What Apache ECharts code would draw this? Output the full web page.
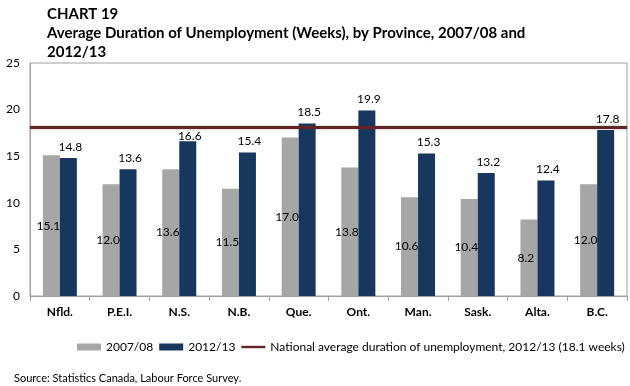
<!DOCTYPE html>
<html><head><meta charset="utf-8">
<script src="https://cdn.jsdelivr.net/npm/echarts@6/dist/echarts.min.js"></script>
<style>html,body{margin:0;padding:0;background:#fff}#c{width:630px;height:386px}</style>
</head><body><div id="c"></div>
<script>
var provinces = ['Nfld.', 'P.E.I.', 'N.S.', 'N.B.', 'Que.', 'Ont.', 'Man.', 'Sask.', 'Alta.', 'B.C.'];
var values0708 = [15.1, 12.0, 13.6, 11.5, 17.0, 13.8, 10.6, 10.4, 8.2, 12.0];
var values1213 = [14.8, 13.6, 16.6, 15.4, 18.5, 19.9, 15.3, 13.2, 12.4, 17.8];
var nationalAvg = 18.1;
var yTicks = [0, 5, 10, 15, 20, 25];
var FONT = 'Lato, "Open Sans", sans-serif';
var chart = echarts.init(document.getElementById('c'));
// label of N.S. 2012/13 sits closer to its bar (under the national line) as in the original
var data1213 = values1213.map(function (v, i) {
  return provinces[i] === 'N.S.' ? {value: v, label: {distance: -1}} : v;
});
chart.setOption({
  animation: false,
  textStyle: {fontFamily: FONT},
  title: {
    text: 'CHART 19\nAverage Duration of Unemployment (Weeks), by Province, 2007/08 and\n2012/13',
    left: 42, top: 0,
    textStyle: {fontFamily: FONT, fontSize: 15, fontWeight: 'bold', color: '#000', lineHeight: 19}
  },
  grid: {left: 30, right: 3, top: 63, bottom: 90, show: true, borderColor: '#a0a0a0', borderWidth: 1},
  legend: {
    bottom: 28, left: 72, itemWidth: 24, itemHeight: 7, itemGap: 6,
    textStyle: {fontFamily: FONT, fontSize: 12, color: '#000'},
    data: [
      {name: '2007/08', icon: 'rect'},
      {name: '2012/13', icon: 'rect'},
      {name: 'National average duration of unemployment, 2012/13 (18.1 weeks)', icon: 'path://M0,0H10V1H0Z'}
    ]
  },
  xAxis: {
    type: 'category', data: provinces,
    axisLine: {lineStyle: {color: '#a0a0a0'}},
    axisTick: {show: true, length: 5, lineStyle: {color: '#a0a0a0'}},
    axisLabel: {fontFamily: FONT, fontSize: 12, fontWeight: 'bold', color: '#000', margin: 10}
  },
  yAxis: {
    type: 'value', min: yTicks[0], max: yTicks[yTicks.length - 1], interval: 5,
    splitLine: {show: false},
    axisLine: {show: true, lineStyle: {color: '#a0a0a0'}},
    axisTick: {show: false},
    axisLabel: {fontFamily: FONT, fontSize: 12, color: '#000', margin: 10}
  },
  series: [
    {
      name: '2007/08', type: 'bar', data: values0708, barWidth: 17, barGap: '0%',
      itemStyle: {color: '#a6a6a6'},
      label: {show: true, position: 'inside', offset: [-3, 0], color: '#000', fontSize: 12, fontFamily: FONT,
        formatter: function (p) { return p.value.toFixed(1); }}
    },
    {
      name: '2012/13', type: 'bar', data: data1213, barWidth: 17, barGap: '0%',
      itemStyle: {color: '#17375e'},
      label: {show: true, position: 'top', distance: 5, offset: [2, 0], color: '#000', fontSize: 12, fontFamily: FONT,
        formatter: function (p) { return p.value.toFixed(1); }}
    },
    {
      name: 'National average duration of unemployment, 2012/13 (18.1 weeks)', type: 'line', data: [],
      symbol: 'none', showSymbol: false, lineStyle: {color: '#632523', width: 3}, itemStyle: {color: '#632523'},
      markLine: {
        silent: true, symbol: 'none', label: {show: false},
        lineStyle: {color: '#632523', width: 3, type: 'solid', shadowColor: 'rgba(99,37,35,0.5)', shadowBlur: 2},
        data: [{yAxis: nationalAvg}]
      }
    }
  ],
  graphic: [{
    type: 'text', left: 14, top: 373,
    style: {text: 'Source: Statistics Canada, Labour Force Survey.', fontFamily: FONT, fontSize: 11, fill: '#000'}
  }]
});
</script></body></html>
